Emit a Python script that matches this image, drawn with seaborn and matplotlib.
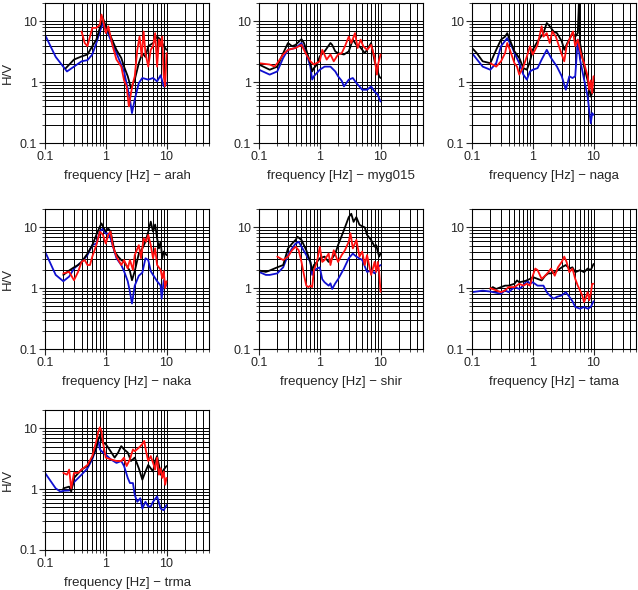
import numpy as np
import pandas as pd
import matplotlib
matplotlib.use("Agg")
import matplotlib.pyplot as plt
import seaborn as sns
from matplotlib.ticker import LogLocator, FixedLocator, NullFormatter

sns.set_style("white")
plt.rcParams['font.family'] = ['Liberation Sans', 'DejaVu Sans']

# ---- arah ----
arah_blue_f = [0.1, 0.15, 0.23, 0.3, 0.4, 0.5, 0.6, 0.7, 0.8, 0.9, 1.0, 1.2, 1.5, 2.0, 2.5, 2.7, 3.0, 3.5, 4, 5, 6, 7, 8, 9, 10]
arah_blue_v = [6.0, 2.6, 1.5, 1.8, 2.2, 2.3, 2.85, 4.4, 6.8, 9.4, 7.8, 5.0, 3.0, 1.5, 0.52, 0.31, 0.52, 0.97, 1.17, 1.1, 1.17, 1.03, 1.3, 0.85, 0.96]
arah_black_f = [0.22, 0.3, 0.4, 0.5, 0.6, 0.7, 0.8, 0.9, 1.0, 1.2, 1.5, 1.8, 2.0, 2.3, 2.6, 3.0, 3.5, 4, 4.5, 5, 6, 7, 8, 9, 10]
arah_black_v = [1.7, 2.35, 2.65, 2.85, 3.9, 5.0, 7.8, 11.3, 8.3, 5.7, 3.4, 2.5, 1.8, 1.25, 0.8, 1.1, 2.05, 3.0, 2.6, 3.9, 4.4, 5.6, 5.0, 3.9, 3.4]
arah_red_f = [0.4, 0.45, 0.5, 0.6, 0.7, 0.8, 0.85, 0.9, 1.0, 1.1, 1.3, 1.5, 1.8, 2.0, 2.2, 2.4, 2.6, 2.8, 3.0, 3.3, 3.6, 3.9, 4.2, 4.5, 5, 5.5, 6, 6.5, 7, 7.5, 8, 8.5, 9, 9.5, 10]
arah_red_v = [6.8, 4.4, 3.9, 7.8, 7.8, 8.8, 12.9, 10.6, 6.4, 8.3, 3.9, 2.35, 1.8, 1.07, 0.85, 0.40, 0.66, 0.97, 1.25, 3.4, 5.6, 2.65, 6.8, 3.0, 1.8, 3.4, 3.9, 6.4, 1.8, 5.0, 3.9, 5.6, 1.25, 0.85, 3.0]

# ---- myg015 ----
myg_blue_f = [0.1, 0.15, 0.2, 0.25, 0.3, 0.4, 0.5, 0.6, 0.7, 0.75, 0.8, 1.0, 1.2, 1.5, 1.8, 2.0, 2.3, 2.5, 3.0, 3.5, 4, 4.5, 5, 6, 7, 8, 9, 10]
myg_blue_v = [1.6, 1.33, 1.5, 2.5, 3.4, 3.65, 4.4, 3.0, 1.8, 1.1, 1.25, 1.6, 1.8, 1.8, 1.5, 1.25, 1.05, 0.85, 1.1, 1.17, 0.97, 0.85, 0.75, 0.75, 0.85, 0.7, 0.62, 0.48]
myg_black_f = [0.1, 0.15, 0.2, 0.25, 0.3, 0.35, 0.4, 0.5, 0.55, 0.6, 0.7, 0.75, 0.8, 0.9, 1.0, 1.2, 1.5, 1.6, 1.8, 2.0, 2.5, 3.0, 3.5, 4, 4.5, 5, 5.5, 6, 7, 8, 8.5, 9, 9.5, 10]
myg_black_v = [1.95, 1.6, 1.8, 3.0, 4.4, 3.9, 4.1, 5.1, 4.4, 3.4, 2.05, 1.5, 1.7, 1.95, 2.65, 3.2, 4.4, 4.1, 3.2, 3.0, 2.85, 3.2, 5.0, 4.1, 3.9, 3.4, 3.0, 3.4, 4.4, 2.2, 1.8, 1.5, 1.25, 1.17]
myg_red_f = [0.1, 0.15, 0.18, 0.2, 0.25, 0.3, 0.4, 0.5, 0.6, 0.7, 0.8, 1.0, 1.1, 1.3, 1.5, 1.7, 2.0, 2.3, 2.6, 3.0, 3.3, 3.8, 4.2, 4.7, 5.2, 6, 7, 8, 8.7, 9.2, 10]
myg_red_v = [2.05, 1.95, 1.8, 2.05, 2.85, 3.4, 3.65, 4.1, 2.85, 2.2, 1.95, 2.2, 3.4, 2.35, 2.85, 2.2, 2.85, 3.0, 3.9, 5.6, 4.4, 6.4, 3.65, 5.0, 3.9, 3.4, 4.1, 2.5, 1.33, 2.05, 2.85]

# ---- naga ----
naga_blue_f = [0.1, 0.15, 0.2, 0.25, 0.3, 0.38, 0.45, 0.5, 0.6, 0.7, 0.8, 0.9, 1.0, 1.2, 1.4, 1.7, 2.0, 2.5, 3.0, 3.5, 4, 4.5, 5, 5.5, 6, 7, 8, 9, 9.5, 10]
naga_blue_v = [3.0, 1.8, 1.6, 2.05, 3.9, 5.3, 3.9, 3.0, 2.05, 1.33, 1.1, 1.5, 1.6, 1.7, 2.35, 3.4, 2.5, 1.8, 1.25, 0.75, 1.25, 1.17, 1.25, 5.0, 2.35, 1.1, 0.58, 0.21, 0.31, 0.29]
naga_black_f = [0.1, 0.12, 0.15, 0.2, 0.25, 0.3, 0.35, 0.38, 0.4, 0.5, 0.6, 0.7, 0.8, 0.9, 1.0, 1.2, 1.5, 1.7, 1.9, 2.2, 2.5, 3.0, 3.3, 3.7, 4, 4.5, 5, 5.5, 5.8, 6, 7, 8, 9, 10]
naga_black_v = [3.65, 3.0, 2.2, 2.05, 3.4, 5.0, 5.6, 6.4, 5.6, 3.2, 2.5, 1.7, 1.6, 2.2, 3.4, 4.7, 6.4, 9.4, 8.3, 6.8, 6.4, 4.7, 3.4, 4.4, 5.0, 6.4, 5.6, 6.4, 25.0, 4.4, 1.8, 1.07, 0.58, 0.75]
naga_red_f = [0.2, 0.25, 0.3, 0.35, 0.38, 0.42, 0.5, 0.55, 0.6, 0.7, 0.8, 0.9, 1.0, 1.2, 1.4, 1.5, 1.7, 1.9, 2.1, 2.4, 2.7, 3.0, 3.3, 3.6, 4.2, 4.6, 5, 5.5, 6, 6.5, 7, 8, 8.5, 9, 9.5, 10]
naga_red_v = [2.05, 1.8, 2.2, 3.0, 4.4, 3.4, 2.05, 1.8, 1.33, 1.8, 2.65, 3.9, 2.85, 4.1, 8.3, 5.6, 6.4, 4.4, 6.8, 5.6, 3.9, 2.85, 2.2, 3.9, 5.6, 6.8, 3.9, 5.0, 3.4, 2.5, 2.05, 1.25, 0.75, 1.07, 0.66, 1.25]

# ---- naka ----
naka_blue_f = [0.1, 0.15, 0.2, 0.25, 0.3, 0.4, 0.5, 0.6, 0.7, 0.8, 0.9, 1.0, 1.1, 1.2, 1.5, 1.8, 2.0, 2.3, 2.5, 2.7, 3.0, 3.5, 4, 4.5, 5, 5.5, 6, 7, 8, 8.3, 9, 10]
naka_blue_v = [4.0, 1.65, 1.3, 1.55, 2.1, 2.7, 3.5, 5.1, 5.4, 8.5, 9.6, 7.9, 7.9, 6.6, 3.1, 2.4, 1.9, 1.3, 0.87, 0.56, 1.1, 1.6, 1.8, 3.1, 2.9, 1.9, 1.65, 1.3, 1.1, 0.67, 1.35, 1.1]
naka_black_f = [0.2, 0.25, 0.3, 0.35, 0.4, 0.5, 0.6, 0.7, 0.8, 0.85, 0.9, 1.0, 1.1, 1.2, 1.4, 1.6, 1.8, 2.0, 2.3, 2.5, 2.7, 3.0, 3.5, 4.0, 4.5, 5.0, 5.5, 6, 6.5, 7, 7.5, 8, 8.5, 9, 10]
naka_black_v = [1.65, 1.95, 2.2, 2.4, 2.7, 3.7, 5.1, 7.5, 10.3, 11.6, 10.3, 8.5, 9.6, 8.5, 4.0, 3.3, 2.9, 2.7, 2.2, 1.9, 1.35, 1.9, 3.7, 4.5, 5.8, 8.5, 12.4, 8.5, 11.1, 6.6, 4.5, 5.8, 3.1, 4.0, 3.5]
naka_red_f = [0.2, 0.25, 0.3, 0.35, 0.4, 0.45, 0.5, 0.55, 0.6, 0.7, 0.8, 0.9, 1.0, 1.1, 1.2, 1.3, 1.5, 1.8, 2.0, 2.3, 2.5, 2.8, 3.0, 3.5, 3.8, 4.2, 4.6, 5, 5.5, 6, 6.5, 7, 8, 8.5, 9, 9.5, 10]
naka_red_v = [1.75, 1.85, 1.35, 1.85, 2.7, 2.9, 2.4, 2.4, 3.3, 5.1, 8.5, 7.5, 5.4, 7.5, 8.5, 5.1, 3.3, 2.4, 2.9, 2.1, 2.9, 2.0, 3.5, 5.1, 3.1, 6.6, 5.8, 7.5, 5.1, 3.1, 4.5, 2.4, 2.0, 1.45, 1.9, 1.0, 1.3]

# ---- shir ----
shir_blue_f = [0.1, 0.13, 0.15, 0.2, 0.25, 0.3, 0.35, 0.4, 0.45, 0.5, 0.6, 0.7, 0.75, 0.8, 0.9, 1.0, 1.1, 1.2, 1.4, 1.5, 1.6, 1.8, 2.0, 2.5, 3.0, 3.5, 4, 5, 6, 7, 8, 9, 10]
shir_blue_v = [1.85, 1.65, 1.65, 1.75, 2.2, 3.5, 4.5, 5.4, 5.8, 4.8, 3.5, 2.7, 1.65, 1.95, 2.1, 2.2, 1.4, 1.25, 1.1, 1.2, 0.97, 1.2, 1.4, 2.1, 3.1, 3.7, 3.3, 2.9, 1.85, 1.95, 1.75, 2.2, 2.4]
shir_black_f = [0.1, 0.13, 0.15, 0.2, 0.25, 0.3, 0.35, 0.4, 0.43, 0.5, 0.6, 0.7, 0.75, 0.8, 0.9, 1.0, 1.2, 1.4, 1.6, 1.8, 2.0, 2.5, 3.0, 3.3, 3.6, 4.0, 4.5, 5, 5.5, 6, 7, 8, 8.5, 9, 9.5, 10]
shir_black_v = [1.95, 1.85, 1.95, 2.2, 2.4, 4.5, 5.4, 6.2, 7.0, 6.2, 4.2, 2.7, 1.95, 2.4, 2.7, 3.1, 3.3, 2.7, 3.1, 3.7, 5.1, 9.0, 14.7, 16.7, 12.3, 14.7, 11.0, 10.4, 10.0, 7.5, 6.2, 4.8, 5.1, 4.0, 3.3, 3.7]
shir_red_f = [0.2, 0.25, 0.3, 0.35, 0.4, 0.45, 0.5, 0.55, 0.6, 0.65, 0.7, 0.75, 0.8, 0.9, 1.0, 1.1, 1.2, 1.4, 1.5, 1.7, 2.0, 2.3, 2.6, 3.0, 3.2, 3.5, 4, 4.5, 5, 5.5, 6, 7, 8, 8.5, 9, 9.5, 10]
shir_red_v = [3.3, 2.9, 3.3, 4.2, 4.8, 4.2, 2.7, 1.65, 1.1, 1.04, 1.1, 1.04, 1.95, 2.7, 4.8, 2.7, 2.9, 3.7, 2.4, 4.2, 2.7, 3.5, 4.2, 5.8, 8.0, 4.5, 6.2, 3.3, 4.0, 2.4, 3.5, 1.65, 2.7, 1.85, 2.7, 1.85, 0.87]

# ---- tama ----
tama_blue_f = [0.1, 0.15, 0.2, 0.25, 0.3, 0.35, 0.4, 0.5, 0.6, 0.7, 0.8, 0.9, 1.0, 1.2, 1.5, 1.7, 1.9, 2.2, 2.5, 3, 3.5, 4, 4.5, 5, 6, 7, 8, 9, 10]
tama_blue_v = [0.86, 0.91, 0.88, 0.84, 0.81, 0.92, 0.86, 1.04, 0.97, 1.1, 1.34, 1.18, 1.25, 1.1, 1.1, 0.86, 0.76, 0.67, 0.72, 0.76, 0.86, 0.72, 0.61, 0.49, 0.46, 0.49, 0.46, 0.49, 0.61]
tama_black_f = [0.2, 0.22, 0.25, 0.3, 0.35, 0.4, 0.5, 0.55, 0.6, 0.7, 0.8, 0.9, 1.0, 1.2, 1.4, 1.6, 1.8, 2.0, 2.3, 2.6, 3.0, 3.5, 4, 4.5, 5, 6, 7, 8, 9, 10]
tama_black_v = [0.97, 1.04, 0.97, 1.04, 1.1, 1.1, 1.18, 1.34, 1.25, 1.29, 1.34, 1.42, 1.52, 1.42, 1.34, 1.6, 1.75, 1.75, 1.83, 1.98, 2.2, 2.4, 2.1, 2.2, 1.83, 1.98, 1.83, 2.1, 1.98, 2.5]
tama_red_f = [0.2, 0.25, 0.3, 0.35, 0.4, 0.5, 0.6, 0.7, 0.8, 0.9, 1.0, 1.1, 1.2, 1.4, 1.6, 1.8, 2.0, 2.3, 2.6, 3.0, 3.3, 3.6, 4.0, 4.5, 5, 5.5, 6, 6.5, 7, 7.5, 8, 8.5, 9, 9.5, 10]
tama_red_v = [1.0, 0.92, 0.86, 0.92, 1.04, 1.04, 1.18, 1.1, 1.18, 1.1, 1.6, 2.1, 1.98, 1.42, 1.6, 1.83, 2.1, 1.6, 2.2, 2.7, 3.3, 2.7, 1.83, 2.1, 1.42, 1.1, 0.92, 0.76, 0.59, 0.71, 0.86, 0.63, 0.81, 1.18, 1.18]

# ---- trma ----
trma_blue_f = [0.1, 0.15, 0.18, 0.2, 0.25, 0.27, 0.3, 0.4, 0.5, 0.6, 0.7, 0.75, 0.8, 0.9, 1.0, 1.2, 1.5, 1.8, 2.0, 2.3, 2.5, 2.8, 3.0, 3.3, 3.7, 4.0, 4.5, 5, 5.5, 6, 7, 8, 9, 10]
trma_blue_v = [1.85, 1.03, 0.91, 0.94, 0.95, 1.03, 1.3, 1.73, 2.2, 3.1, 4.8, 6.6, 4.5, 4.0, 3.7, 3.1, 2.7, 2.9, 2.4, 1.53, 1.26, 1.26, 0.8, 0.62, 0.71, 0.48, 0.62, 0.52, 0.52, 0.62, 0.76, 0.48, 0.45, 0.55]
trma_black_f = [0.2, 0.25, 0.27, 0.3, 0.4, 0.5, 0.6, 0.7, 0.75, 0.8, 0.9, 1.0, 1.2, 1.4, 1.6, 1.8, 2.0, 2.3, 2.6, 3.0, 3.5, 4.0, 4.5, 5.0, 5.5, 6, 6.5, 7, 7.5, 8, 9, 10]
trma_black_v = [1.03, 1.1, 0.91, 1.53, 2.1, 2.4, 3.3, 4.8, 6.6, 7.5, 5.8, 5.5, 4.2, 3.3, 4.0, 5.1, 4.5, 4.0, 2.9, 3.3, 2.2, 1.43, 1.95, 2.5, 2.2, 1.95, 2.9, 3.5, 2.5, 1.73, 2.1, 2.4]
trma_red_f = [0.2, 0.23, 0.25, 0.27, 0.3, 0.35, 0.4, 0.5, 0.6, 0.7, 0.75, 0.8, 0.85, 0.9, 1.0, 1.2, 1.5, 1.8, 2.0, 2.2, 2.5, 2.8, 3.0, 3.5, 4, 4.3, 4.6, 5, 5.5, 6, 6.5, 7, 7.5, 8, 8.5, 9, 9.5, 10]
trma_red_v = [1.85, 1.73, 2.1, 1.03, 1.85, 1.85, 2.1, 2.5, 3.5, 6.2, 8.6, 10.4, 9.1, 5.8, 3.3, 3.1, 2.9, 2.9, 3.3, 2.4, 3.1, 4.5, 4.2, 4.8, 5.5, 6.2, 4.2, 2.9, 3.5, 2.7, 2.1, 3.3, 1.73, 2.2, 1.53, 1.95, 1.18, 1.53]

stations = ["arah", "myg015", "naga", "naka", "shir", "tama", "trma"]
curves = {
    "arah": [(arah_blue_f, arah_blue_v), (arah_black_f, arah_black_v), (arah_red_f, arah_red_v)],
    "myg015": [(myg_blue_f, myg_blue_v), (myg_black_f, myg_black_v), (myg_red_f, myg_red_v)],
    "naga": [(naga_blue_f, naga_blue_v), (naga_black_f, naga_black_v), (naga_red_f, naga_red_v)],
    "naka": [(naka_blue_f, naka_blue_v), (naka_black_f, naka_black_v), (naka_red_f, naka_red_v)],
    "shir": [(shir_blue_f, shir_blue_v), (shir_black_f, shir_black_v), (shir_red_f, shir_red_v)],
    "tama": [(tama_blue_f, tama_blue_v), (tama_black_f, tama_black_v), (tama_red_f, tama_red_v)],
    "trma": [(trma_blue_f, trma_blue_v), (trma_black_f, trma_black_v), (trma_red_f, trma_red_v)],
}
colors = ["#1010d0", "black", "#ff1010"]

W, H = 638, 590
fig = plt.figure(figsize=(W / 100, H / 100), dpi=100)
col_left = [45, 259, 472]
row_top = [3, 209, 410]
aw, ah = 164, 140

for i, st in enumerate(stations):
    r, c = divmod(i, 3)
    l, t = col_left[c], row_top[r]
    ax = fig.add_axes([l / W, (H - t - ah) / H, aw / W, ah / H])
    for (f, v), col in zip(curves[st], colors):
        sns.lineplot(x=f, y=v, color=col, lw=1.3, ax=ax, sort=False)
    ax.set_xscale("log")
    ax.set_yscale("log")
    ax.set_xlim(0.1, 50)
    ax.set_ylim(0.1, 20)
    ax.xaxis.set_major_locator(FixedLocator([0.1, 1, 10]))
    ax.yaxis.set_major_locator(FixedLocator([0.1, 1, 10]))
    ax.xaxis.set_minor_locator(LogLocator(base=10, subs=np.arange(2, 10)))
    ax.yaxis.set_minor_locator(LogLocator(base=10, subs=np.arange(2, 10)))
    ax.xaxis.set_minor_formatter(NullFormatter())
    ax.yaxis.set_minor_formatter(NullFormatter())
    ax.set_xticklabels(["0.1", "1", "10"])
    ax.set_yticklabels(["0.1", "1", "10"])
    ax.grid(True, which="both", color="black", lw=0.7)
    ax.set_axisbelow(True)
    ax.tick_params(which="major", direction="out", length=4, width=0.8, labelsize=9, pad=2, left=True, bottom=True)
    ax.tick_params(which="minor", direction="out", length=2, width=0.6, left=True, bottom=True)
    for s in ax.spines.values():
        s.set_color("black")
        s.set_linewidth(0.8)
    ax.set_xlabel("frequency [Hz] \u2212 " + st, fontsize=9.5, labelpad=5)
    if c == 0:
        ax.set_ylabel("H/V", fontsize=9.5, labelpad=4)
    else:
        ax.set_ylabel("")

fig.savefig("out.png", dpi=100)
